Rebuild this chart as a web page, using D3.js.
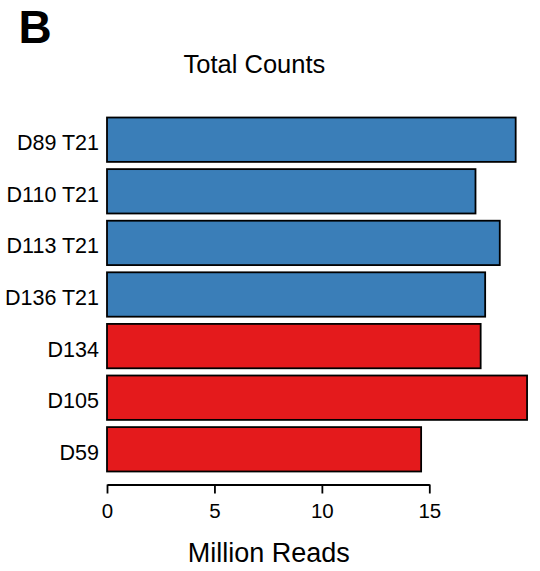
<!DOCTYPE html>
<html>
<head>
<meta charset="utf-8">
<script src="https://cdn.jsdelivr.net/npm/d3@7"></script>
<style>
  html, body { margin: 0; padding: 0; background: #fff; }
  svg { display: block; font-family: "Liberation Sans", Arial, Helvetica, sans-serif; }
</style>
</head>
<body>
<svg id="chart" width="540" height="571"></svg>
<script>
// Samples, top to bottom
const samples = ["D89 T21", "D110 T21", "D113 T21", "D136 T21", "D134", "D105", "D59"];
// Total read counts per sample (millions)
const millionReads = [19.02, 17.15, 18.28, 17.60, 17.39, 19.55, 14.62];
// Group per sample: trisomy 21 vs control
const groups = ["T21", "T21", "T21", "T21", "ctrl", "ctrl", "ctrl"];
const xTicks = [0, 5, 10, 15];

const groupColor = { T21: "#3A7EB8", ctrl: "#E41A1C" };

const svg = d3.select("#chart");

const x = d3.scaleLinear().domain([0, 15]).range([107, 429.3]);
const y = d3.scaleBand()
  .domain(samples)
  .range([113.9, 475.1])
  .paddingInner(0.14)
  .paddingOuter(0.07);

// Bars
svg.append("g")
  .selectAll("rect")
  .data(samples)
  .join("rect")
  .attr("x", x(0))
  .attr("y", d => y(d))
  .attr("width", (d, i) => x(millionReads[i]) - x(0))
  .attr("height", y.bandwidth())
  .attr("fill", (d, i) => groupColor[groups[i]])
  .attr("stroke", "#000")
  .attr("stroke-width", 1.8);

// Sample labels
svg.append("g")
  .selectAll("text")
  .data(samples)
  .join("text")
  .attr("x", 99)
  .attr("y", d => y(d) + y.bandwidth() / 2 + 10.5)
  .attr("text-anchor", "end")
  .attr("font-size", 21.5)
  .attr("fill", "#000")
  .text(d => d);

// X axis
const axis = svg.append("g")
  .attr("transform", "translate(0,484.5)")
  .call(d3.axisBottom(x).tickValues(xTicks).tickSize(9).tickSizeOuter(0).tickPadding(0));
axis.select(".domain").attr("stroke", "#000").attr("stroke-width", 1.8);
axis.selectAll(".tick line").attr("stroke", "#000").attr("stroke-width", 1.8);
axis.selectAll(".tick text")
  .attr("font-size", 20.5)
  .attr("font-family", "\"Liberation Sans\", Arial, sans-serif")
  .attr("fill", "#000")
  .attr("dy", null)
  .attr("y", 33);

// Axis title
svg.append("text")
  .attr("x", 268.7)
  .attr("y", 561.5)
  .attr("text-anchor", "middle")
  .attr("font-size", 27)
  .attr("fill", "#000")
  .text("Million Reads");

// Chart title
svg.append("text")
  .attr("x", 254.4)
  .attr("y", 73.3)
  .attr("text-anchor", "middle")
  .attr("font-size", 25.5)
  .attr("fill", "#000")
  .text("Total Counts");

// Panel letter
svg.append("text")
  .attr("x", 18.5)
  .attr("y", 43.3)
  .attr("font-size", 46)
  .attr("font-weight", "bold")
  .attr("fill", "#000")
  .text("B");
</script>
</body>
</html>
